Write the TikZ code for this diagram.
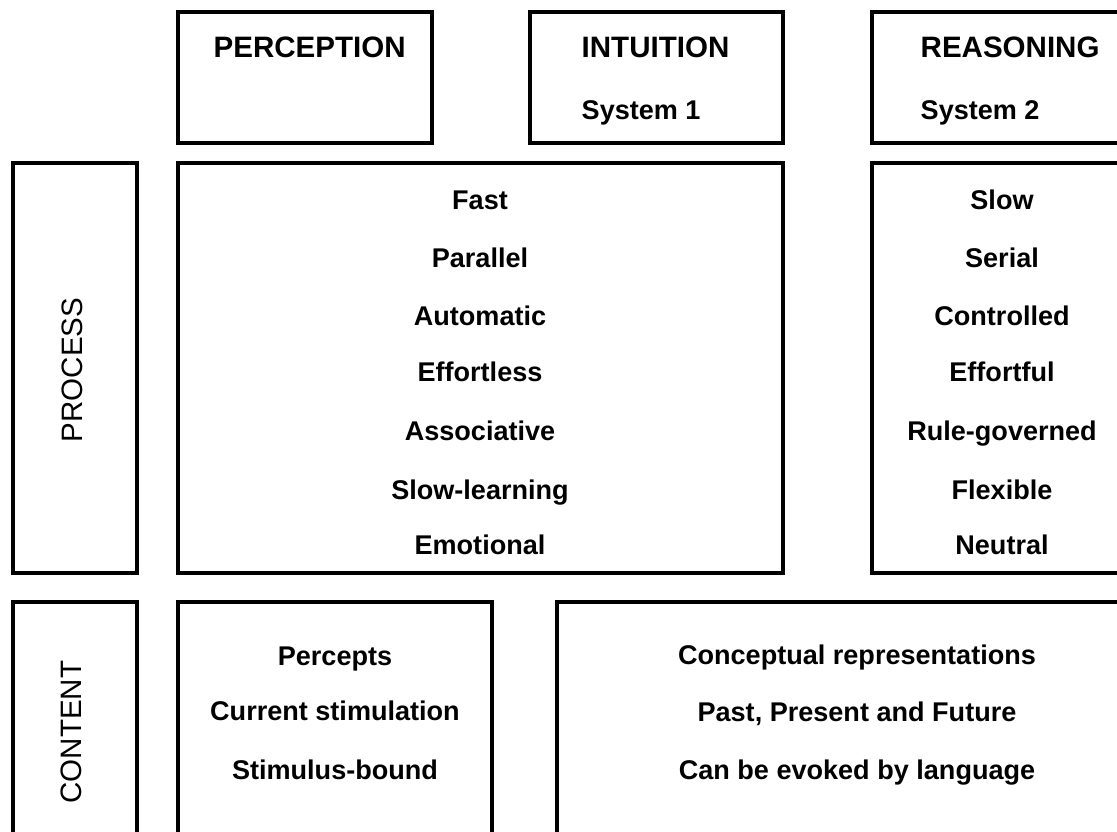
\documentclass[tikz,border=0pt]{standalone}
\usepackage{fontspec}
\setmainfont{Liberation Sans}
\usetikzlibrary{positioning}

\tikzset{
  cell/.style={draw=black, line width=1.15pt},
  head/.style={font=\fontsize{8.4}{10}\selectfont, inner sep=0pt, text height=0.9em, text depth=0.2em},
  title/.style={head, font=\fontsize{8.4}{10}\selectfont\bfseries},
  item/.style={font=\fontsize{7.7}{9}\selectfont\bfseries, inner sep=0pt, text height=0.9em, text depth=0.2em},
}

\begin{document}
\begin{tikzpicture}[y=-1cm]
  \path[use as bounding box] (0,0) rectangle (11.17,8.31);
  \clip (0,0) rectangle (11.17,8.31);

  %Corners
  \coordinate (percA)    at (1.78,0.12);
  \coordinate (percB)    at (4.32,1.43);
  \coordinate (intuA)    at (5.30,0.12);
  \coordinate (intuB)    at (7.83,1.43);
  \coordinate (reasA)    at (8.72,0.12);
  \coordinate (reasB)    at (11.40,1.43);
  \coordinate (procA)    at (0.13,1.63);
  \coordinate (procB)    at (1.37,5.73);
  \coordinate (sysoneA)  at (1.78,1.63);
  \coordinate (sysoneB)  at (7.83,5.73);
  \coordinate (systwoA)  at (8.72,1.63);
  \coordinate (systwoB)  at (11.40,5.73);
  \coordinate (contA)    at (0.13,6.02);
  \coordinate (contB)    at (1.37,8.60);
  \coordinate (perctA)   at (1.78,6.02);
  \coordinate (perctB)   at (4.92,8.60);
  \coordinate (concA)    at (5.57,6.02);
  \coordinate (concB)    at (11.40,8.60);

  %Boxes
  \draw[cell] (percA) rectangle (percB);
  \draw[cell] (intuA) rectangle (intuB);
  \draw[cell] (reasA) rectangle (reasB);
  \draw[cell] (procA) rectangle (procB);
  \draw[cell] (sysoneA) rectangle (sysoneB);
  \draw[cell] (systwoA) rectangle (systwoB);
  \draw[cell] (contA) rectangle (contB);
  \draw[cell] (perctA) rectangle (perctB);
  \draw[cell] (concA) rectangle (concB);

  %Headings
  \node[title, anchor=west] (perception) at (2.13,0.45) {PERCEPTION};
  \node[title, anchor=west] (intuition)  at (5.81,0.45) {INTUITION};
  \node[item, anchor=west]  (sysone)     at (5.81,1.07) {System 1};
  \node[title, anchor=west] (reasoning)  at (9.20,0.45) {REASONING};
  \node[item, anchor=west]  (systwo)     at (9.20,1.07) {System 2};
  \node[head, rotate=90]    (process)    at (0.70,3.70) {PROCESS};
  \node[head, rotate=90]    (content)    at (0.69,7.32) {CONTENT};

  %System 1 process
  \node[item] (fast)      at (4.80,1.97) {Fast};
  \node[item] (parallel)  at (4.80,2.55) {Parallel};
  \node[item] (automatic) at (4.80,3.13) {Automatic};
  \node[item] (effless)   at (4.80,3.69) {Effortless};
  \node[item] (assoc)     at (4.80,4.28) {Associative};
  \node[item] (slowlearn) at (4.80,4.87) {Slow-learning};
  \node[item] (emotional) at (4.80,5.42) {Emotional};

  %System 2 process
  \node[item] (slow)       at (10.02,1.97) {Slow};
  \node[item] (serial)     at (10.02,2.55) {Serial};
  \node[item] (controlled) at (10.02,3.13) {Controlled};
  \node[item] (effful)     at (10.02,3.69) {Effortful};
  \node[item] (rulegov)    at (10.02,4.28) {Rule-governed};
  \node[item] (flexible)   at (10.02,4.87) {Flexible};
  \node[item] (neutral)    at (10.02,5.42) {Neutral};

  %Content
  \node[item] (percepts)  at (3.35,6.53) {Percepts};
  \node[item] (currstim)  at (3.35,7.08) {Current stimulation};
  \node[item] (stimbound) at (3.35,7.67) {Stimulus-bound};
  \node[item] (concrep)   at (8.57,6.52) {Conceptual representations};
  \node[item] (ppf)       at (8.57,7.09) {Past, Present and Future};
  \node[item] (language)  at (8.57,7.67) {Can be evoked by language};

\end{tikzpicture}
\end{document}
